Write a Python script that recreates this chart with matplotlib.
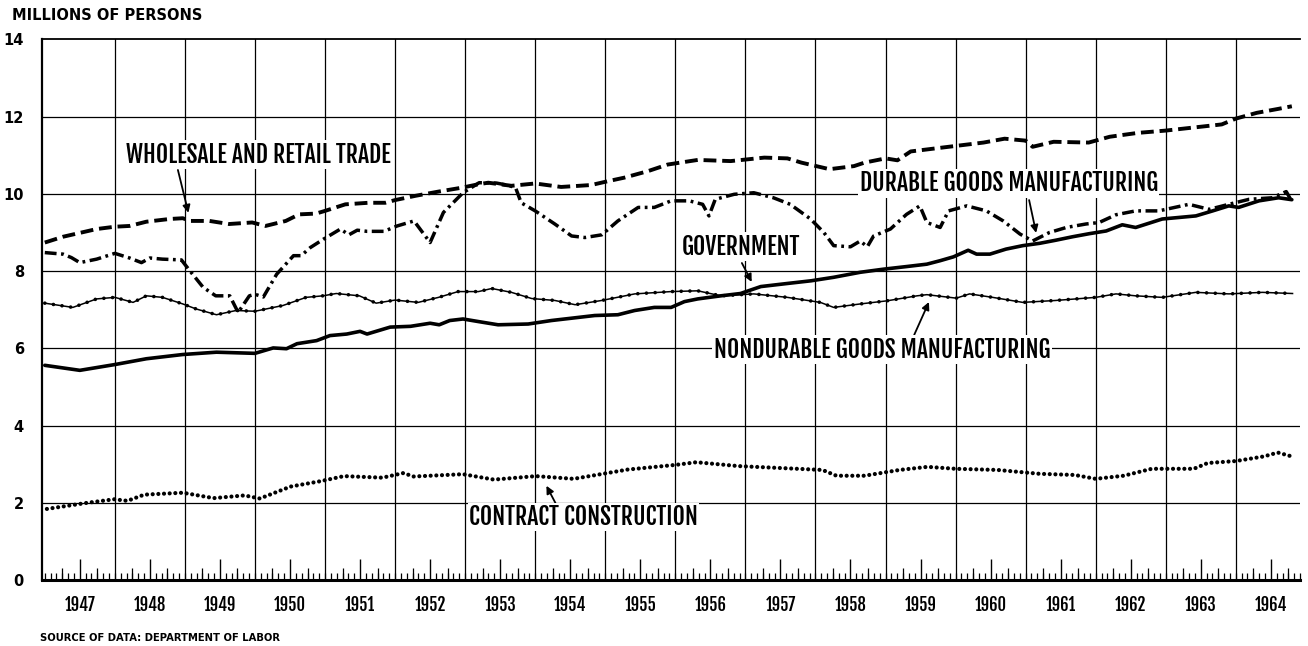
import numpy as np
import matplotlib
matplotlib.use("Agg")
import matplotlib.pyplot as plt

# Employment by industry, millions of persons (x = decimal year)
trade_t = [1947.0, 1947.26, 1947.74, 1948.0, 1948.21, 1948.45, 1948.78, 1948.97, 1949.07, 1949.35,
           1949.63, 1949.96, 1950.15, 1950.44, 1950.63, 1950.87, 1951.0, 1951.29, 1951.62, 1951.86,
           1952.0, 1952.29, 1952.62, 1952.95, 1953.19, 1953.33, 1953.66, 1954.0, 1954.37, 1954.8,
           1955.04, 1955.27, 1955.61, 1955.89, 1956.32, 1956.79, 1957.27, 1957.6, 1957.8, 1958.2,
           1958.55, 1958.7, 1959.0, 1959.17, 1959.36, 1959.9, 1960.4, 1960.7, 1961.0, 1961.1,
           1961.4, 1961.9, 1962.2, 1962.6, 1963.0, 1963.4, 1963.8, 1964.0, 1964.3, 1964.6, 1964.8]
trade_v = [8.74, 8.89, 9.09, 9.15, 9.17, 9.28, 9.35, 9.37, 9.30, 9.30,
           9.22, 9.26, 9.17, 9.30, 9.47, 9.49, 9.56, 9.73, 9.77, 9.77,
           9.84, 9.95, 10.06, 10.16, 10.25, 10.29, 10.21, 10.27, 10.18, 10.23,
           10.33, 10.42, 10.59, 10.76, 10.88, 10.85, 10.94, 10.92, 10.81, 10.64,
           10.72, 10.81, 10.92, 10.87, 11.10, 11.22, 11.33, 11.43, 11.38, 11.22,
           11.35, 11.33, 11.48, 11.58, 11.64, 11.72, 11.80, 11.95, 12.10, 12.20, 12.27]

durable_t = [1947.0, 1947.26, 1947.38, 1947.5, 1947.74, 1948.0, 1948.21, 1948.38, 1948.5, 1948.68,
             1948.95, 1949.07, 1949.26, 1949.44, 1949.64, 1949.76, 1949.92, 1950.0, 1950.12, 1950.31,
             1950.55, 1950.66, 1950.79, 1950.98, 1951.22, 1951.34, 1951.46, 1951.6, 1951.84, 1952.03,
             1952.27, 1952.5, 1952.69, 1952.97, 1953.2, 1953.45, 1953.62, 1953.72, 1953.8, 1954.0,
             1954.28, 1954.52, 1954.71, 1954.95, 1955.18, 1955.47, 1955.7, 1955.94, 1956.2, 1956.39,
             1956.48, 1956.57, 1956.84, 1957.12, 1957.4, 1957.64, 1957.93, 1958.12, 1958.26, 1958.5,
             1958.64, 1958.74, 1958.83, 1959.07, 1959.3, 1959.49, 1959.59, 1959.78, 1959.9, 1960.16,
             1960.44, 1960.68, 1960.92, 1961.1, 1961.34, 1961.58, 1961.86, 1962.05, 1962.29, 1962.57,
             1962.9, 1963.33, 1963.62, 1963.9, 1964.19, 1964.52, 1964.72, 1964.81]
durable_v = [8.48, 8.44, 8.35, 8.22, 8.31, 8.46, 8.34, 8.22, 8.34, 8.31,
             8.29, 8.01, 7.58, 7.36, 7.36, 6.93, 7.36, 7.40, 7.33, 7.92,
             8.40, 8.40, 8.61, 8.83, 9.09, 8.94, 9.06, 9.03, 9.03, 9.17,
             9.30, 8.74, 9.52, 10.03, 10.29, 10.28, 10.22, 10.16, 9.77, 9.56,
             9.22, 8.91, 8.87, 8.94, 9.30, 9.65, 9.65, 9.82, 9.82, 9.73,
             9.43, 9.86, 9.99, 10.03, 9.90, 9.73, 9.35, 9.00, 8.66, 8.63,
             8.78, 8.63, 8.91, 9.09, 9.47, 9.69, 9.26, 9.13, 9.56, 9.69,
             9.56, 9.30, 8.96, 8.78, 9.00, 9.13, 9.22, 9.26, 9.46, 9.56,
             9.56, 9.73, 9.60, 9.73, 9.86, 9.90, 10.06, 9.77]

govt_t = [1947.0, 1947.5, 1948.0, 1948.45, 1948.97, 1949.45, 1950.0, 1950.26, 1950.45, 1950.6,
          1950.88, 1951.07, 1951.31, 1951.5, 1951.6, 1951.93, 1952.22, 1952.5, 1952.63, 1952.78,
          1952.97, 1953.2, 1953.47, 1953.9, 1954.23, 1954.85, 1955.18, 1955.42, 1955.7, 1955.94,
          1956.13, 1956.32, 1956.65, 1956.93, 1957.22, 1957.6, 1957.94, 1958.26, 1958.64, 1958.97,
          1959.31, 1959.59, 1959.78, 1959.97, 1960.18, 1960.3, 1960.49, 1960.72, 1960.96, 1961.2,
          1961.43, 1961.67, 1961.91, 1962.15, 1962.38, 1962.57, 1962.95, 1963.43, 1963.67, 1963.9,
          1964.04, 1964.33, 1964.61, 1964.8]
govt_v = [5.56, 5.43, 5.58, 5.73, 5.84, 5.90, 5.87, 6.01, 5.99, 6.12,
          6.20, 6.33, 6.37, 6.44, 6.37, 6.55, 6.57, 6.65, 6.61, 6.72,
          6.76, 6.69, 6.61, 6.63, 6.72, 6.85, 6.87, 6.98, 7.06, 7.06,
          7.21, 7.28, 7.36, 7.42, 7.60, 7.68, 7.75, 7.84, 7.97, 8.05,
          8.12, 8.18, 8.27, 8.37, 8.54, 8.44, 8.44, 8.57, 8.66, 8.72,
          8.80, 8.89, 8.97, 9.04, 9.20, 9.13, 9.35, 9.43, 9.56, 9.69,
          9.65, 9.82, 9.90, 9.85]

nondur_t = [1947.0, 1947.4, 1947.74, 1948.0, 1948.26, 1948.45, 1948.68, 1948.97, 1949.16, 1949.45,
            1949.73, 1950.0, 1950.4, 1950.73, 1950.97, 1951.16, 1951.49, 1951.73, 1952.0, 1952.33,
            1952.62, 1952.9, 1953.19, 1953.38, 1953.66, 1953.95, 1954.28, 1954.57, 1954.95, 1955.42,
            1955.94, 1956.32, 1956.65, 1957.12, 1957.6, 1958.07, 1958.26, 1958.64, 1959.02, 1959.45,
            1959.59, 1960.01, 1960.2, 1960.53, 1960.96, 1961.43, 1962.0, 1962.29, 1962.57, 1962.95,
            1963.43, 1963.9, 1964.38, 1964.81]
nondur_v = [7.17, 7.06, 7.28, 7.32, 7.19, 7.36, 7.32, 7.15, 7.02, 6.87,
            6.98, 6.96, 7.11, 7.32, 7.36, 7.42, 7.36, 7.17, 7.25, 7.19,
            7.32, 7.47, 7.47, 7.55, 7.45, 7.29, 7.24, 7.13, 7.24, 7.41,
            7.47, 7.49, 7.36, 7.41, 7.32, 7.19, 7.06, 7.15, 7.23, 7.36,
            7.39, 7.30, 7.41, 7.32, 7.19, 7.24, 7.32, 7.41, 7.36, 7.32,
            7.45, 7.41, 7.45, 7.42]

constr_t = [1947.03, 1947.61, 1947.99, 1948.18, 1948.42, 1948.97, 1949.41, 1949.85, 1950.07, 1950.51,
            1950.94, 1951.27, 1951.82, 1952.12, 1952.26, 1952.97, 1953.41, 1954.01, 1954.55, 1955.32,
            1956.0, 1956.3, 1956.9, 1957.5, 1958.1, 1958.3, 1958.7, 1959.2, 1959.6, 1960.0,
            1960.6, 1961.2, 1961.7, 1962.0, 1962.4, 1962.8, 1963.4, 1963.6, 1964.0, 1964.4,
            1964.6, 1964.8]
constr_v = [1.84, 2.00, 2.09, 2.05, 2.21, 2.26, 2.12, 2.19, 2.11, 2.42,
            2.56, 2.69, 2.65, 2.77, 2.68, 2.74, 2.60, 2.69, 2.62, 2.86,
            2.98, 3.05, 2.95, 2.90, 2.85, 2.70, 2.70, 2.85, 2.93, 2.88,
            2.85, 2.75, 2.72, 2.62, 2.70, 2.88, 2.88, 3.03, 3.08, 3.20,
            3.30, 3.20]

years = list(range(1947, 1965))
y_ticks = [0, 2, 4, 6, 8, 10, 12, 14]

# heavy condensed gothic for the labels, plain bold sans for the small captions
narrow = ['Fjalla One', 'Anton', 'Oswald', 'IBM Plex Sans Condensed', 'DejaVu Sans']
caption = ['DejaVu Sans']

fig = plt.figure(figsize=(13.08, 6.46), dpi=100)
ax = fig.add_axes([0.0321, 0.1022, 0.9618, 0.8367])
ax.set_xlim(1946.96, 1964.9)
ax.set_ylim(0, 14)

# grid: horizontal every 2 million, vertical at each year boundary
for v in y_ticks[1:-1]:
    ax.axhline(v, color='k', lw=0.9, zorder=1)
for yr in years[1:]:
    ax.axvline(yr, color='k', lw=0.9, zorder=1)

# series
ax.plot(trade_t, trade_v, color='k', lw=2.8, ls=(0, (3.3, 1.5)), zorder=3)
ax.plot(durable_t, durable_v, color='k', lw=2.5, ls=(0, (3.4, 1.3, 0.8, 1.3)), zorder=3)
ax.plot(govt_t, govt_v, color='k', lw=2.6, solid_capstyle='round', solid_joinstyle='round', zorder=3)
ax.plot(nondur_t, nondur_v, color='k', lw=1.1, zorder=3)
ax.plot(nondur_t, nondur_v, color='k', lw=2.6, ls=(0, (0.01, 2.4)), dash_capstyle='round', zorder=3)
ax.plot(constr_t, constr_v, color='k', lw=3.0, ls=(0, (0.01, 1.35)), dash_capstyle='round', zorder=3)

# spines
ax.spines['right'].set_visible(False)
ax.spines['top'].set_linewidth(1.3)
ax.spines['left'].set_linewidth(1.6)
ax.spines['bottom'].set_linewidth(2.2)

# y axis
ax.set_yticks(y_ticks)
ax.set_yticklabels([str(v) for v in y_ticks], family=caption, fontsize=10.5, fontweight='bold')
ax.tick_params(axis='y', length=0, pad=13)

# x axis: year labels at mid-year, monthly minor ticks, quarterly ticks on a secondary axis
ax.set_xticks([yr + 0.5 for yr in years])
ax.set_xticklabels([str(yr) for yr in years], family=narrow, fontsize=12, fontweight='bold')
ax.set_xticks(np.arange(1947, 1965, 1 / 12), minor=True)
ax.tick_params(axis='x', which='major', direction='in', length=15, width=1.0, pad=11)
ax.tick_params(axis='x', which='minor', direction='in', length=5, width=0.9)
sec = ax.secondary_xaxis('bottom')
sec.set_xticks(np.arange(1947.25, 1965, 0.5))
sec.set_xticklabels([])
sec.tick_params(direction='in', length=9, width=0.9)
sec.spines['bottom'].set_visible(False)

# series labels with arrows
lab = dict(family=narrow, fontsize=17, fontweight='bold', ha='center', va='center', zorder=5,
           bbox=dict(facecolor='white', edgecolor='none', pad=1.0))
arr = dict(arrowstyle='-|>', color='k', lw=1.3, mutation_scale=11, shrinkA=0, shrinkB=0)

ax.text(1950.05, 11.01, 'WHOLESALE AND RETAIL TRADE', **lab)
ax.annotate('', xy=(1949.05, 9.51), xytext=(1948.9, 10.62), arrowprops=arr)

ax.text(1960.76, 10.28, 'DURABLE GOODS MANUFACTURING', **lab)
ax.annotate('', xy=(1961.15, 8.99), xytext=(1961.05, 9.84), arrowprops=arr)

ax.text(1956.93, 8.63, 'GOVERNMENT', **lab)
ax.annotate('', xy=(1957.09, 7.72), xytext=(1956.95, 8.21), arrowprops=arr)

ax.text(1958.95, 5.96, 'NONDURABLE GOODS MANUFACTURING', **lab)
ax.annotate('', xy=(1959.62, 7.2), xytext=(1959.41, 6.35), arrowprops=arr)

ax.text(1954.69, 1.63, 'CONTRACT CONSTRUCTION', **lab)
ax.annotate('', xy=(1954.16, 2.44), xytext=(1954.29, 1.99), arrowprops=arr)

fig.text(12 / 1308, 1 - 15 / 646, 'MILLIONS OF PERSONS', family=caption, fontsize=10.5,
         fontweight='bold', va='center')
fig.text(40 / 1308, 1 - 638 / 646, 'SOURCE OF DATA: DEPARTMENT OF LABOR', family=caption,
         fontsize=7.2, fontweight='bold', va='center')

fig.savefig('out.png', dpi=100)
